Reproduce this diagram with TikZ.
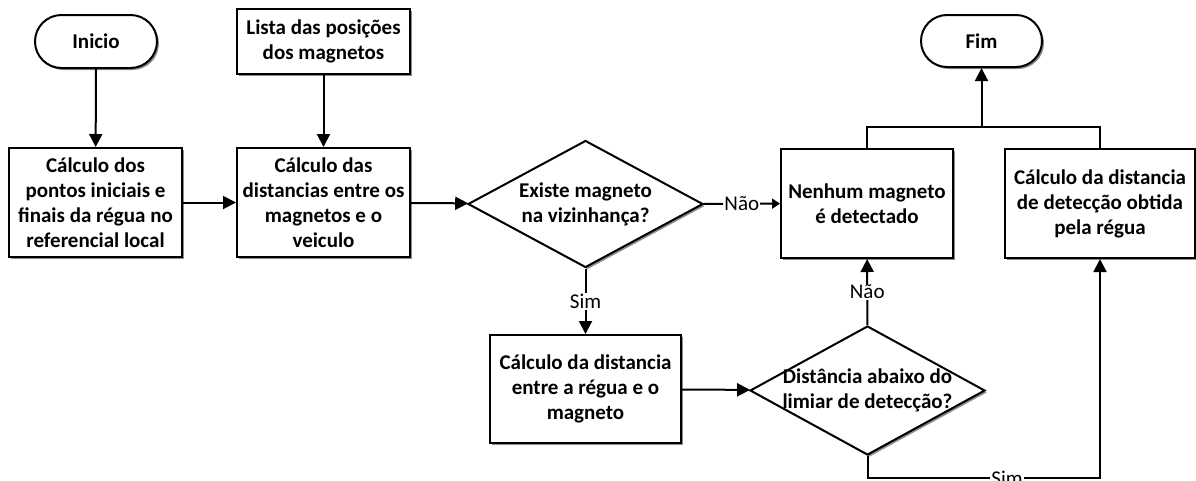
\documentclass[tikz,border=0pt]{standalone}
\usepackage{fontspec}
\setmainfont{Carlito}
\usepackage{tikz}
\usetikzlibrary{shapes.geometric,shapes.misc,shadows,arrows.meta}
\tikzset{
  base/.style={draw, line width=2pt, fill=white, align=center, inner sep=0pt,
    font=\fontsize{21}{25}\selectfont\bfseries,
    drop shadow={shadow xshift=2pt, shadow yshift=-2pt, fill=black!45, opacity=1}},
  process/.style={base, rectangle, minimum width=173pt, minimum height=109pt},
  terminal/.style={base, rounded rectangle, minimum width=122pt, minimum height=53pt},
  decision/.style={base, diamond, minimum width=235pt, minimum height=127pt},
  flow/.style={line width=2pt, -{Triangle[length=13pt,width=13pt]}},
  shortflow/.style={line width=2pt, -{Triangle[length=8pt,width=10pt]}},
  link/.style={line width=2pt},
  answer/.style={fill=white, inner sep=1pt, font=\fontsize{21}{25}\selectfont}
}

\begin{document}
\begin{tikzpicture}[x=1pt,y=-1pt]
  \useasboundingbox (0,0) rectangle (1196,480);

  \node[terminal] (inicio) at (96,41.5) {Inicio};
  \node[process] (pontos) at (95.5,202.5) {Cálculo dos\\pontos iniciais e\\finais da régua no\\referencial local};
  \node[process, minimum height=65pt] (lista) at (323.5,41.5) {Lista das posições\\dos magnetos};
  \node[process] (distancias) at (323.5,202.5) {Cálculo das\\distancias entre os\\magnetos e o\\veiculo};
  \node[decision] (existe) at (585.5,204) {\makebox[0pt]{Existe magneto}\\\makebox[0pt]{na vizinhança?}};
  \node[process, minimum width=172pt] (nenhum) at (867,203.5) {Nenhum magneto\\é detectado};
  \node[terminal, minimum width=121pt, minimum height=52pt] (fim) at (981.5,41) {Fim};
  \node[process, minimum width=190pt] (deteccao) at (1100,203.5) {Cálculo da distancia\\de detecção obtida\\pela régua};
  \node[process, minimum width=191pt, minimum height=108pt] (regua) at (585.5,389) {Cálculo da distancia\\entre a régua e o\\magneto};
  \node[decision, minimum height=129pt] (limiar) at (867.5,390.5) {\makebox[0pt]{Distância abaixo do}\\\makebox[0pt]{limiar de detecção?}};

  \coordinate (juncao) at (981.5,127);
  \coordinate (baixo) at (867.5,478);

  \draw[flow] (inicio) -- (pontos);
  \draw[flow] (lista) -- (distancias);
  \draw[flow] (pontos) -- (distancias);
  \draw[flow] (distancias) -- (existe);
  \draw[shortflow] (existe) -- node[answer] {Não} (nenhum);
  \draw[flow] (existe) -- node[answer] {Sim} (regua);
  \draw[flow] (regua) -- (limiar);
  \draw[flow] (limiar) -- node[answer] {Não} (nenhum);
  \draw[flow] (limiar.south) -- (baixo) -| node[answer, pos=0.3] {Sim} (deteccao.south);
  \draw[link] (nenhum.north) |- (juncao);
  \draw[link] (deteccao.north) |- (juncao);
  \draw[flow] (juncao) -- (fim);
\end{tikzpicture}
\end{document}
